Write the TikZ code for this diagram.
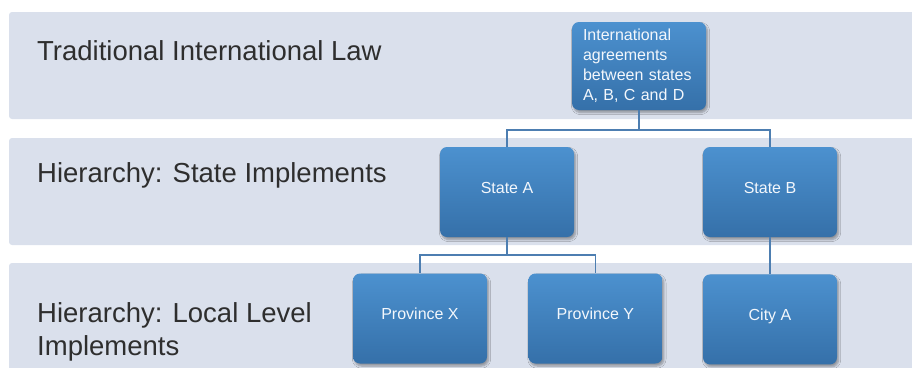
\documentclass[tikz,border=0pt]{standalone}
\usepackage{fontspec}
\setmainfont{Liberation Sans}
\usetikzlibrary{positioning, shadows.blur}
\definecolor{bandbg}{HTML}{DAE0EC}
\definecolor{boxtop}{HTML}{4C91CF}
\definecolor{boxbottom}{HTML}{3570A9}
\definecolor{linkline}{HTML}{4D7EB1}
\definecolor{labeltext}{HTML}{2E2E2E}

\begin{document}
\begin{tikzpicture}[
  x=1pt, y=-1pt,
  band/.style={fill=bandbg, rounded corners=3pt},
  bandLabel/.style={anchor=base west, align=left, text=labeltext, inner sep=0pt,
    font=\fontsize{27.5}{33}\selectfont},
  orgNode/.style={draw=none, top color=boxtop, bottom color=boxbottom, rounded corners=7pt,
    minimum width=134pt, minimum height=90pt, inner sep=0pt, align=center,
    text=white!93!boxtop, font=\fontsize{16}{20}\selectfont,
    blur shadow={shadow xshift=1.5pt, shadow yshift=-2.5pt, shadow blur steps=6, shadow opacity=35}},
  unitNode/.style={orgNode, text depth=9pt},
  link/.style={draw=linkline, line width=1.5pt}
]
\useasboundingbox (0,0) rectangle (912,367);

% Level bands
\fill[band] (9,12) rectangle (918,119);
\fill[band] (9,138) rectangle (918,245);
\fill[band] (9,263) rectangle (918,380);

\node[bandLabel] (lblLaw) at (37,60) {Traditional International Law};
\node[bandLabel] (lblState) at (37,182) {Hierarchy: State Implements};
\node[bandLabel] (lblLocal) at (37,355) {Hierarchy: Local Level\\Implements};

% Organisation chart
\node[orgNode, minimum height=88pt, text width=112pt, align=left] (treaty) at (639,66)
  {International\\agreements\\between states\\A, B, C and D};
\node[unitNode] (stateA) at (507,192) {State A};
\node[unitNode] (stateB) at (770,192) {State B};
\node[unitNode] (provX) at (420,318.5) {Province X};
\node[unitNode, right=41pt of provX] (provY) {Province Y};
\node[unitNode, below=37pt of stateB] (cityA) {City A};

% Connectors
\draw[link] (treaty.south) -- ++(0,20) coordinate (forkTop);
\draw[link] (forkTop) -| (stateA.north);
\draw[link] (forkTop) -| (stateB.north);

\draw[link] (stateA.south) -- ++(0,18) coordinate (forkA);
\draw[link] (forkA) -| (provX.north);
\draw[link] (forkA) -| (provY.north);

\draw[link] (stateB.south) -- (cityA.north);

\end{tikzpicture}
\end{document}
